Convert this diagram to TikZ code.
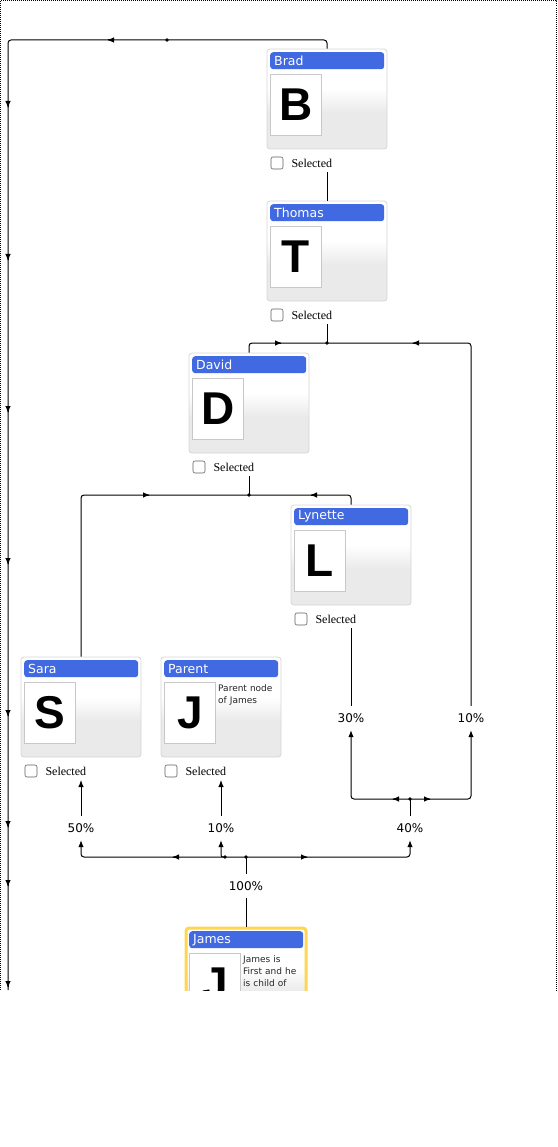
\documentclass[tikz,border=0pt]{standalone}
\usepackage{fontspec}
\setmainfont{Liberation Serif}
\newfontfamily\uifont{DejaVu Sans}
\newfontfamily\letterfont{Liberation Sans}
\usetikzlibrary{calc,arrows.meta}
\definecolor{headblue}{RGB}{65,105,225}
\definecolor{cardgray}{RGB}{234,234,234}
\definecolor{cardline}{RGB}{214,214,214}
\definecolor{photoline}{RGB}{200,200,200}
\definecolor{boxline}{RGB}{95,95,95}
\definecolor{jamesgold}{RGB}{255,214,80}
\pgfdeclareverticalshading{cardshade}{100bp}{color(0bp)=(cardgray); color(43bp)=(cardgray); color(55bp)=(white); color(100bp)=(white)}
\tikzset{
    borderline/.style={line width=1pt, dash pattern=on 1pt off 1pt},
    card/.style={draw=cardline, line width=0.8pt, rounded corners=3pt, shading=cardshade,
      minimum width=120pt, minimum height=100pt, inner sep=0pt},
    cardhead/.style={fill=headblue, rounded corners=3pt, text=white, align=left,
      text width=106pt, inner xsep=4pt, inner ysep=0pt, minimum height=17pt,
      font=\uifont\fontsize{12.5pt}{13pt}\selectfont},
    photo/.style={draw=photoline, line width=0.8pt, fill=white, inner sep=0pt,
      minimum width=51pt, minimum height=61pt,
      font=\letterfont\bfseries\fontsize{46pt}{46pt}\selectfont},
    cardnote/.style={align=left, text width=62pt, inner sep=1pt, text=black!85,
      font=\uifont\fontsize{9pt}{12pt}\selectfont},
    checkbox/.style={draw=boxline, line width=0.6pt, fill=white, rounded corners=2pt,
      minimum size=12pt, inner sep=0pt},
    selectlabel/.style={inner sep=0pt, font=\fontsize{12pt}{14pt}\selectfont},
    pct/.style={inner sep=1pt, minimum height=24pt, font=\uifont\fontsize{12pt}{13pt}\selectfont},
    conn/.style={draw=black, line width=1pt},
    flowarrow/.style={-{Latex[length=7pt,width=5.5pt]}},
    flowtip/.pic={\draw[conn, flowarrow] (-1pt,0) -- (0,0);},
  }
% one person card: name, left, top, title, letter, note
\newcommand{\personcard}[7][]{%
	\node[card,#1] (#2) at (#3+60,#4+50) {};
	\node[cardhead, anchor=north west] (#2-head) at (#3+3,#4+3) {#5};
	\node[photo, anchor=north west] (#2-pic) at (#3+3,#4+25) {#6};
	\node[cardnote, anchor=north west] (#2-note) at (#3+56,#4+26.5) {#7};
	\node[checkbox] (#2-box) at (#3+10,#4+114) {};
	\node[selectlabel, anchor=west, xshift=8pt] (#2-sel) at (#2-box.east) {Selected};
	\coordinate (#2-out) at (#3+60,#4+123);
}

\begin{document}
\begin{tikzpicture}[x=1pt,y=-1pt]
	\useasboundingbox (0,0) rectangle (557,1147);
	\begin{scope}
	\clip (0,0) rectangle (557,990);
	\draw[borderline] (0.5,990) -- (0.5,0.5) -- (556,0.5) -- (556,990);
	%cards
	\personcard{Brad}{267}{49}{Brad}{B}{}
	\personcard{Thomas}{267}{201}{Thomas}{T}{}
	\personcard{David}{189}{353}{David}{D}{}
	\personcard{Lynette}{291}{505}{Lynette}{L}{}
	\personcard{Sara}{21}{657}{Sara}{S}{}
	\personcard{Parent}{161}{657}{Parent}{J}{Parent node\\of James}
	\personcard[draw=jamesgold,line width=3pt]{James}{186}{928}{James}{J}{James is\\First and he\\is child of}
	%split points
	\coordinate (rail) at (8,40);
	\coordinate (railend) at (8,990);
	\coordinate (topdot) at (167,40);
	\coordinate (dotT) at (327,343);
	\coordinate (dotD) at (249,495);
	\coordinate (dotL) at (410,799);
	\coordinate (dotJ) at (246,857);
	\coordinate (dotP) at (225,857);
	%shares
	\node[pct] (pct30) at (351,718) {30\%};
	\node[pct] (pctR) at (471,718) {10\%};
	\node[pct] (pct50) at (81,828) {50\%};
	\node[pct] (pct10) at (221,828) {10\%};
	\node[pct] (pct40) at (410,828) {40\%};
	\node[pct] (pct100) at (246,886) {100\%};
	%links
	\draw[conn, rounded corners=3pt] (Brad.north) |- (topdot) -- (rail) -- (railend);
	\draw[conn] (Brad-out) -- (Thomas.north);
	\draw[conn] (Thomas-out) -- (dotT);
	\draw[conn, rounded corners=3pt] (dotT) -| (David.north);
	\draw[conn, rounded corners=3pt] (pctR.north) |- (dotT);
	\draw[conn] (David-out) -- (dotD);
	\draw[conn, rounded corners=3pt] (Sara.north) |- (dotD);
	\draw[conn, rounded corners=3pt] (Lynette.north) |- (dotD);
	\draw[conn] (Lynette-out) -- (pct30.north);
	\draw[conn] (pct40.north) -- (dotL);
	\draw[conn, flowarrow, rounded corners=3pt] (dotL) -| (pct30.south);
	\draw[conn, flowarrow, rounded corners=3pt] (dotL) -| (pctR.south);
	\draw[conn] (James.north) -- (pct100.south);
	\draw[conn] (pct100.north) -- (dotJ);
	\draw[conn, flowarrow, rounded corners=3pt] (dotJ) -| (pct50.south);
	\draw[conn, flowarrow, rounded corners=3pt] (dotJ) -| (pct40.south);
	\draw[conn, flowarrow, rounded corners=2pt] (dotP) -| (pct10.south);
	\draw[conn, flowarrow] (pct50.north) -- (Sara-out);
	\draw[conn, flowarrow] (pct10.north) -- (Parent-out);
	%arrow marks along the links
	\pic[rotate=180] at (107,40) {flowtip};
	\pic at (282,343) {flowtip};
	\pic[rotate=180] at (412,343) {flowtip};
	\pic at (150,495) {flowtip};
	\pic[rotate=180] at (310,495) {flowtip};
	\pic[rotate=180] at (392,799) {flowtip};
	\pic at (431,799) {flowtip};
	\pic[rotate=180] at (172,857) {flowtip};
	\pic at (308,857) {flowtip};
	\foreach \y in {108,261,413,565,717,828,887,988}
		\pic[rotate=-90] at (8,\y) {flowtip};
	\foreach \d in {topdot,dotT,dotD,dotL,dotJ,dotP}
		\fill (\d) circle (1.8pt);
	\end{scope}
\end{tikzpicture}
\end{document}
